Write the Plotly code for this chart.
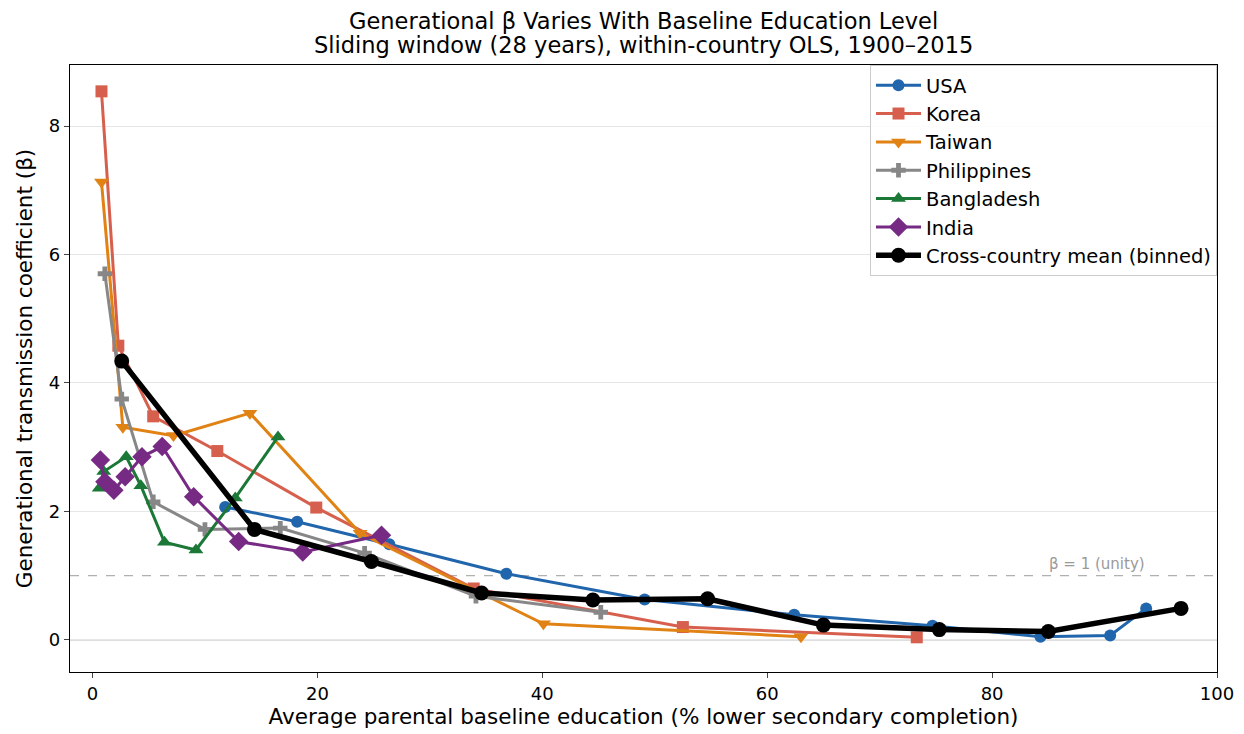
import plotly.graph_objects as go

usa_x = [11.8, 18.2, 26.4, 36.8, 49.1, 62.4, 74.7, 84.3, 90.5, 93.7]
usa_y = [2.07, 1.84, 1.49, 1.03, 0.63, 0.39, 0.22, 0.05, 0.07, 0.49]

korea_x = [0.8, 2.3, 5.4, 11.1, 19.9, 33.9, 52.5, 73.3]
korea_y = [8.54, 4.58, 3.48, 2.94, 2.06, 0.80, 0.20, 0.04]

taiwan_x = [0.8, 2.7, 7.2, 14.0, 23.8, 40.1, 63.0]
taiwan_y = [7.13, 3.31, 3.18, 3.53, 1.66, 0.25, 0.05]

phil_x = [1.1, 2.6, 5.4, 10.0, 16.7, 24.2, 34.1, 45.2]
phil_y = [5.70, 3.75, 2.15, 1.72, 1.74, 1.35, 0.68, 0.43]

bang_x = [0.6, 1.0, 3.0, 4.3, 6.4, 9.2, 12.7, 16.5]
bang_y = [2.36, 2.62, 2.85, 2.40, 1.52, 1.40, 2.21, 3.16]

india_x = [0.7, 1.1, 1.9, 2.9, 4.4, 6.2, 9.0, 13.0, 18.7, 25.7]
india_y = [2.80, 2.46, 2.33, 2.54, 2.85, 3.01, 2.23, 1.53, 1.37, 1.63]

mean_x = [2.6, 14.4, 24.8, 34.6, 44.5, 54.7, 65.0, 75.3, 85.0, 96.8]
mean_y = [4.34, 1.72, 1.22, 0.73, 0.62, 0.64, 0.23, 0.16, 0.13, 0.49]

title_lines = ["Generational β Varies With Baseline Education Level",
               "Sliding window (28 years), within-country OLS, 1900–2015"]

series = [
    ("USA", usa_x, usa_y, "#2166ac", "circle", 12),
    ("Korea", korea_x, korea_y, "#d6604d", "square", 12),
    ("Taiwan", taiwan_x, taiwan_y, "#e08214", "triangle-down", 13),
    ("Philippines", phil_x, phil_y, "#878787", "cross", 12),
    ("Bangladesh", bang_x, bang_y, "#1b7837", "triangle-up", 13),
    ("India", india_x, india_y, "#762a83", "diamond", 15),
]

FONT = "DejaVu Sans"
fig = go.Figure()

# reference lines
fig.add_shape(type="line", xref="paper", x0=0, x1=1, y0=0, y1=0,
              line=dict(color="#bdbdbd", width=1.3), layer="below")
fig.add_shape(type="line", xref="paper", x0=0, x1=1, y0=1, y1=1,
              line=dict(color="#b0b0b0", width=1.2, dash="dash"), layer="below")
fig.add_annotation(x=93.8, y=1.0, text="β = 1 (unity)", showarrow=False,
                   xanchor="right", yanchor="bottom", yshift=1,
                   font=dict(family=FONT, size=15, color="#9a9a9a"))

# title lines
for txt, shift in zip(title_lines, [44, 20]):
    fig.add_annotation(x=0.5, y=1, xref="paper", yref="paper", text=txt,
                       showarrow=False, xanchor="center", yanchor="middle",
                       borderpad=0, yshift=shift,
                       font=dict(family=FONT, size=22.5, color="black"))

for name, xs, ys, col, sym, ms in series:
    fig.add_trace(go.Scatter(x=xs, y=ys, mode="lines+markers", name=name,
                             line=dict(color=col, width=3),
                             marker=dict(symbol=sym, size=ms, color=col)))

fig.add_trace(go.Scatter(x=mean_x, y=mean_y, mode="lines+markers",
                         name="Cross-country mean (binned)",
                         line=dict(color="black", width=5.5),
                         marker=dict(symbol="circle", size=15, color="black")))

fig.update_layout(
    width=1236, height=726,
    margin=dict(l=62, r=27, t=57, b=62, autoexpand=False),
    paper_bgcolor="white", plot_bgcolor="white",
    font=dict(family=FONT, size=18, color="black"),
    legend=dict(x=1.0, y=1.0, xanchor="right", yanchor="top",
                xref="paper", yref="paper",
                bgcolor="rgba(255,255,255,0.85)", bordercolor="#cccccc", borderwidth=1,
                font=dict(family=FONT, size=19.5), tracegroupgap=0, itemwidth=45),
    showlegend=True,
)
fig.update_xaxes(range=[-2, 100], tickvals=[0, 20, 40, 60, 80, 100],
                 showgrid=False, zeroline=False, showline=True, linecolor="black",
                 linewidth=1.2, mirror=True, ticks="outside", ticklen=5,
                 tickfont=dict(size=18), automargin=False,
                 title=dict(text="Average parental baseline education (% lower secondary completion)",
                            font=dict(size=21.5), standoff=6))
fig.update_yaxes(range=[-0.5, 8.95], tickvals=[0, 2, 4, 6, 8],
                 showgrid=True, gridcolor="#e6e6e6", gridwidth=1, zeroline=False,
                 showline=True, linecolor="black", linewidth=1.2, mirror=True,
                 ticks="outside", ticklen=5, tickfont=dict(size=18), automargin=False,
                 title=dict(text="Generational transmission coefficient (β)",
                            font=dict(size=21.5), standoff=10))

fig.write_html("out.html")
